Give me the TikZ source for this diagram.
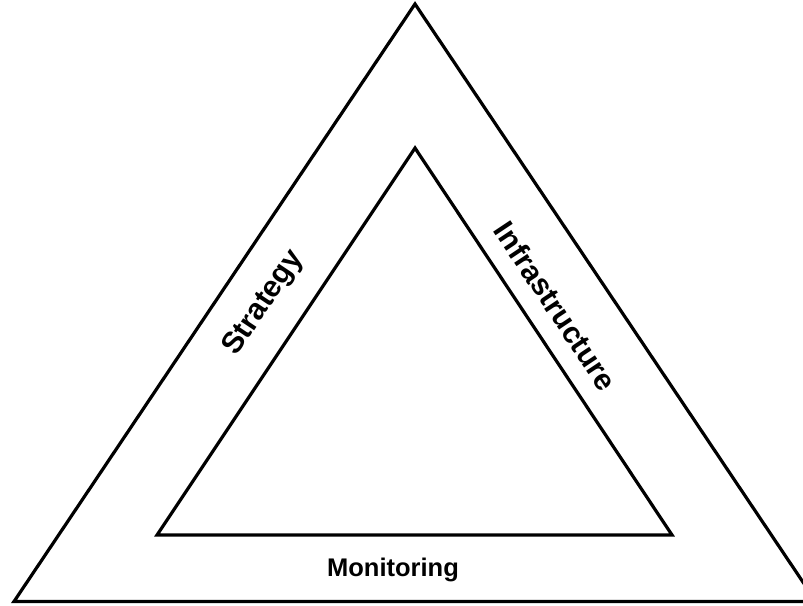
\documentclass[tikz,border=0pt]{standalone}
\usepackage{fontspec}
\setmainfont{Liberation Sans}
\begin{document}
\begin{tikzpicture}[x=1pt,y=-1pt,
  tri/.style={draw=black,line width=3.2pt,line join=miter},
  lbl/.style={font=\fontsize{25.5}{25.5}\selectfont\bfseries,inner sep=0pt},
  slbl/.style={font=\fontsize{30}{30}\selectfont\bfseries,inner sep=0pt}]
\useasboundingbox (0,0) rectangle (803,605);
\coordinate (oa) at (415,4);
\coordinate (ol) at (14,601.5);
\coordinate (or) at (816,601.5);
\coordinate (ia) at (415,148);
\coordinate (il) at (157,535);
\coordinate (ir) at (672,535);
\begin{scope}
\clip (0,0) rectangle (803,605);
\draw[tri] (oa) -- (ol) -- (or) -- cycle;
\end{scope}
\draw[tri] (ia) -- (il) -- (ir) -- cycle;
\node[slbl,rotate=56.3] (strategy) at (264,303) {Strategy};
\node[slbl,rotate=-56.3] (infra) at (556,306) {Infrastructure};
\node[lbl] (monitoring) at (393,570) {Monitoring};
\end{tikzpicture}
\end{document}
